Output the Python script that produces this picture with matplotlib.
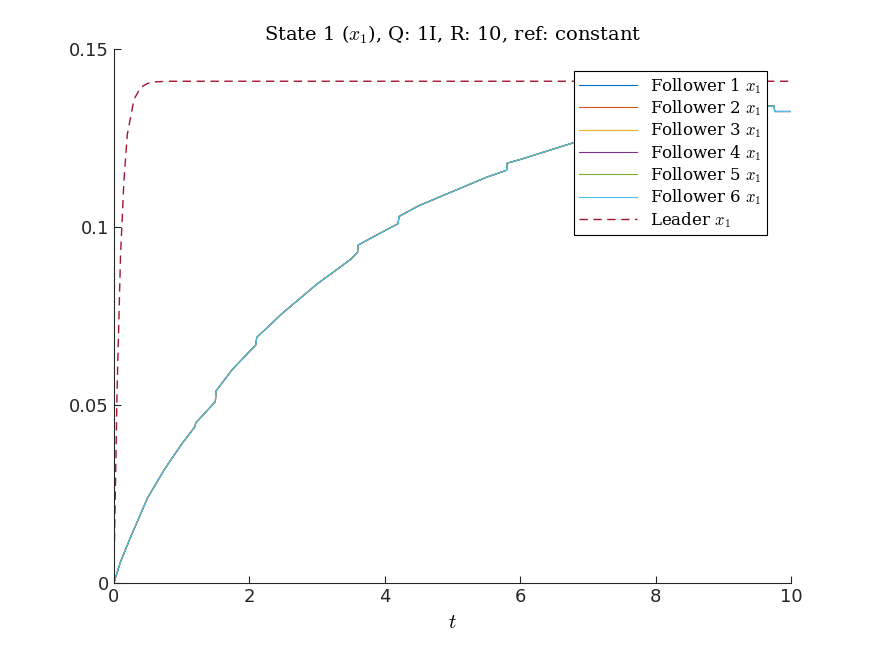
import numpy as np
import matplotlib.pyplot as plt

plt.rcParams["mathtext.fontset"] = "cm"

# follower state (all six overlap)
t_f = [0, 0.1, 0.25, 0.5, 0.75, 1.0, 1.2, 1.21, 1.5, 1.51, 1.75, 2.0, 2.1, 2.11, 2.5, 3.0,
       3.5, 3.6, 3.61, 4.0, 4.2, 4.21, 4.5, 5.0, 5.5, 5.8, 5.81, 6.0, 6.5, 7.0, 7.5, 8.0,
       8.5, 9.0, 9.3, 9.75, 9.76, 10.0]
y_f = [0, 0.006, 0.013, 0.024, 0.032, 0.039, 0.044, 0.045, 0.051, 0.054, 0.060, 0.065,
       0.067, 0.069, 0.076, 0.084, 0.091, 0.093, 0.095, 0.099, 0.101, 0.103, 0.106, 0.110,
       0.114, 0.116, 0.118, 0.119, 0.122, 0.125, 0.127, 0.129, 0.131, 0.1325, 0.134,
       0.134, 0.1325, 0.1325]

# leader state
t_l = [0, 0.05, 0.1, 0.15, 0.2, 0.3, 0.4, 0.5, 0.6, 0.8, 10]
y_l = [0, 0.055, 0.092, 0.113, 0.126, 0.136, 0.1393, 0.1404, 0.1408, 0.141, 0.141]

colors = ["#0072BD", "#D95319", "#EDB120", "#7E2F8E", "#77AC30", "#4DBEEE"]

fig = plt.figure(figsize=(8.75, 6.56), dpi=100)
ax = fig.add_axes([0.130, 0.111, 0.774, 0.814])
for i, c in enumerate(colors):
    ax.plot(t_f, y_f, color=c, lw=0.8, label=f"Follower {i + 1} $x_1$")
ax.plot(t_l, y_l, "--", color="#A2142F", lw=1.0, label="Leader $x_1$", dashes=(6, 4))

ax.set_xlim(0, 10)
ax.set_ylim(0, 0.15)
ax.set_xticks([0, 2, 4, 6, 8, 10])
ax.set_yticks([0, 0.05, 0.1, 0.15])
ax.set_yticklabels(["0", "0.05", "0.1", "0.15"])
ax.tick_params(direction="in", labelsize=13, length=5, colors="#262626")
for s in ("top", "right"):
    ax.spines[s].set_visible(False)
for s in ("left", "bottom"):
    ax.spines[s].set_color("#262626")
ax.set_xlabel("$t$", fontsize=15)
ax.set_title("State 1 ($x_1$), Q: 1I, R: 10, ref: constant", fontsize=14,
             family="DejaVu Serif")
leg = ax.legend(loc="upper right", bbox_to_anchor=(0.977, 0.975), fancybox=False,
                edgecolor="black", framealpha=1, prop={"family": "DejaVu Serif", "size": 12},
                handlelength=3.5, borderpad=0.3, labelspacing=0.15)
leg.get_frame().set_linewidth(0.8)

fig.savefig("out.png", dpi=100, facecolor="white")
